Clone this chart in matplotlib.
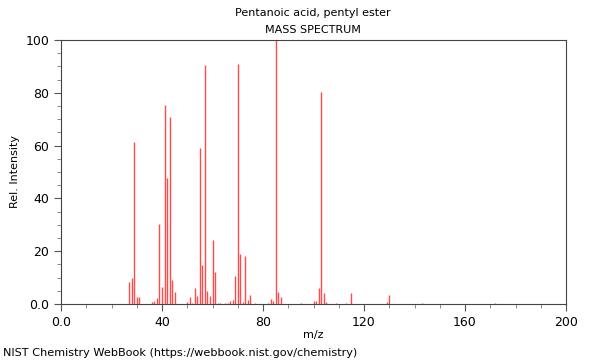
#!/usr/bin/env python3
"""Mass spectrum stick plot - Pentanoic acid, pentyl ester (NIST style)."""

import matplotlib

matplotlib.use("Agg")

from matplotlib import pyplot as plt
from matplotlib.ticker import FuncFormatter, MultipleLocator

# ----------------------- Data ----------------- #
mz = [27, 28, 29, 30, 31,
      36, 37, 38, 39, 40, 41, 42, 43, 44, 45,
      50, 51, 52, 53, 54, 55, 56, 57, 58, 59, 60, 61, 62, 63,
      65, 66, 67, 68, 69, 70, 71, 72, 73, 74, 75, 77,
      82, 83, 84, 85, 86, 87,
      95, 100, 101, 102, 103, 104, 105, 109, 113, 115,
      129, 130, 143, 172]
intensity = [8.3, 9.8, 61.3, 2.6, 2.6,
             0.7, 1.2, 2.4, 30.3, 6.4, 75.4, 47.9, 70.7, 9.2, 4.6,
             0.8, 2.5, 0.4, 6.2, 3.2, 59.0, 14.9, 90.5, 5.1, 3.0, 24.1, 12.1, 0.3, 0.3,
             0.3, 0.4, 1.1, 1.6, 10.5, 91.0, 19.0, 0.9, 18.0, 1.6, 3.5, 0.3,
             0.5, 1.8, 1.0, 100.0, 4.5, 2.7,
             0.4, 1.3, 1.3, 5.9, 80.4, 4.2, 0.6, 0.2, 0.5, 4.3,
             0.8, 3.5, 0.4, 0.3]

title = "Pentanoic acid, pentyl ester"
subtitle = "MASS SPECTRUM"
footer = "NIST Chemistry WebBook (https://webbook.nist.gov/chemistry)"


def zero_fmt(v, _pos):
    # NIST puts "0.0" at the origin, plain integers elsewhere
    return "0.0" if abs(v) < 1e-9 else f"{v:g}"


def main():
    plt.rcParams["font.family"] = ["DejaVu Sans"]
    plt.rcParams["font.size"] = 8

    fig = plt.figure(figsize=(6.0, 3.6), dpi=100)
    ax = fig.add_axes([61 / 600, 56 / 360, 505 / 600, 264 / 360])

    ax.vlines(mz, 0, intensity, colors="#ff4a4a", linewidth=1.0)

    ax.set_xlim(0, 200)
    ax.set_ylim(0, 100)
    ax.xaxis.set_major_locator(MultipleLocator(40))
    ax.xaxis.set_minor_locator(MultipleLocator(10))
    ax.yaxis.set_major_locator(MultipleLocator(20))
    ax.yaxis.set_minor_locator(MultipleLocator(5))
    ax.xaxis.set_major_formatter(FuncFormatter(zero_fmt))
    ax.yaxis.set_major_formatter(FuncFormatter(zero_fmt))

    ax.tick_params(which="major", direction="out", length=5, width=0.8,
                   color="#555555", labelsize=9, labelcolor="black")
    ax.tick_params(which="minor", direction="out", length=3, width=0.6,
                   color="#777777")
    for sp in ax.spines.values():
        sp.set_color("#444444")
        sp.set_linewidth(0.8)

    ax.set_xlabel("m/z", fontsize=8, labelpad=1)
    ax.set_ylabel("Rel. Intensity", fontsize=8, labelpad=4)

    fig.text(313 / 600, 1 - 13 / 360, title, ha="center", va="center", fontsize=8)
    fig.text(313 / 600, 1 - 30 / 360, subtitle, ha="center", va="center", fontsize=8)
    fig.text(3 / 600, 1 - 353 / 360, footer, ha="left", va="center", fontsize=8.15)

    fig.savefig("out.png", dpi=100)


if __name__ == "__main__":
    main()
